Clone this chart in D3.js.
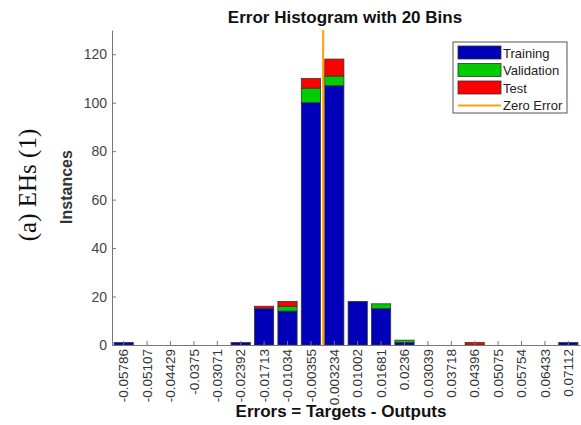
<!DOCTYPE html>
<html>
<head>
<meta charset="utf-8">
<script src="https://cdn.jsdelivr.net/npm/d3@7"></script>
<style>
  body { margin: 0; background: #fff; }
  svg { display: block; font-family: Arial, "Liberation Sans", sans-serif; }
</style>
</head>
<body>
<script>
// bin centres (tick labels) and counts per bin
let binLabels = ['-0.05786', '-0.05107', '-0.04429', '-0.0375', '-0.03071', '-0.02392',
  '-0.01713', '-0.01034', '-0.00355', '0.003234', '0.01002', '0.01681', '0.0236',
  '0.03039', '0.03718', '0.04396', '0.05075', '0.05754', '0.06433', '0.07112']
let training = [1, 0, 0, 0, 0, 1, 15, 14, 100, 107, 18, 15, 1, 0, 0, 0, 0, 0, 0, 1]
let validation = [0, 0, 0, 0, 0, 0, 0, 2, 6, 4, 0, 2, 1, 0, 0, 0, 0, 0, 0, 0]
let test = [0, 0, 0, 0, 0, 0, 1, 2, 4, 7, 0, 0, 0, 0, 0, 1, 0, 0, 0, 0]
let yTicks = [0, 20, 40, 60, 80, 100, 120]
let seriesNames = ['Training', 'Validation', 'Test']
let colors = { Training: '#0000b8', Validation: '#00cc00', Test: '#ff0000' }
let zeroColor = '#ffa200'

let width = 581
let height = 425
let margin = { left: 112, right: 1, top: 30, bottom: 80 }

let svg = d3.select('body').append('svg')
  .attr('width', width)
  .attr('height', height)

let rows = binLabels.map((b, i) => ({
  bin: b, Training: training[i], Validation: validation[i], Test: test[i]
}))

//scales
let xScale = d3.scaleBand()
  .domain(binLabels)
  .range([margin.left, width - margin.right])
  .paddingInner(0.18)
  .paddingOuter(0.09)
let yScale = d3.scaleLinear().domain([0, 130]).range([height - margin.bottom, margin.top])
// numeric scale for the zero error line, mapped through first/last bin centres
let first = +binLabels[0]
let last = +binLabels[binLabels.length - 1]
let xVal = d3.scaleLinear()
  .domain([first, last])
  .range([xScale(binLabels[0]) + xScale.bandwidth() / 2,
    xScale(binLabels[binLabels.length - 1]) + xScale.bandwidth() / 2])

let stacked = d3.stack().keys(seriesNames)(rows)

// bars
svg.append('g').selectAll('g')
  .data(stacked)
  .join('g')
  .attr('fill', d => colors[d.key])
  .selectAll('rect')
  .data(d => d.filter(p => p[1] > p[0]))
  .join('rect')
  .attr('x', d => xScale(d.data.bin))
  .attr('width', xScale.bandwidth())
  .attr('y', d => yScale(d[1]))
  .attr('height', d => yScale(d[0]) - yScale(d[1]))
  .attr('stroke', '#333')
  .attr('stroke-width', 0.8)

// axes
let xAxis = svg.append('g')
  .attr('transform', `translate(0,${height - margin.bottom})`)
  .call(d3.axisBottom(xScale).tickSize(-4).tickPadding(4).tickSizeOuter(0))
xAxis.selectAll('text')
  .attr('transform', 'rotate(-90)')
  .attr('text-anchor', 'end')
  .attr('x', -4)
  .attr('y', 0)
  .attr('dy', '0.35em')
  .style('font-size', '13.5px')
  .attr('fill', '#333')

let yAxis = svg.append('g')
  .attr('transform', `translate(${margin.left},0)`)
  .call(d3.axisLeft(yScale).tickValues(yTicks).tickSize(-4).tickPadding(5).tickSizeOuter(0))
yAxis.selectAll('text').style('font-size', '14px').attr('fill', '#444')

svg.selectAll('.domain').attr('stroke', '#777')
svg.selectAll('.tick line').attr('stroke', '#777')

// zero error line
svg.append('line')
  .attr('x1', xVal(0)).attr('x2', xVal(0))
  .attr('y1', margin.top).attr('y2', height - margin.bottom)
  .attr('stroke', zeroColor)
  .attr('stroke-width', 2)

// titles
svg.append('text')
  .attr('x', 345).attr('y', 23)
  .attr('text-anchor', 'middle')
  .style('font-size', '17px').style('font-weight', 'bold')
  .attr('fill', '#111')
  .text('Error Histogram with 20 Bins')

svg.append('text')
  .attr('x', 341).attr('y', 417)
  .attr('text-anchor', 'middle')
  .style('font-size', '17px').style('font-weight', 'bold')
  .attr('fill', '#111')
  .text('Errors = Targets - Outputs')

svg.append('text')
  .attr('transform', 'translate(72,187) rotate(-90)')
  .attr('text-anchor', 'middle')
  .style('font-size', '16px').style('font-weight', 'bold')
  .attr('fill', '#333')
  .text('Instances')

svg.append('text')
  .attr('transform', 'translate(36,185) rotate(-90)')
  .attr('text-anchor', 'middle')
  .style('font-family', '"Liberation Serif", "Times New Roman", serif')
  .style('font-size', '25px')
  .attr('fill', '#111')
  .text('(a) EHs (1)')

// legend
let legend = svg.append('g').attr('transform', 'translate(453,42)')
legend.append('rect')
  .attr('width', 114).attr('height', 71)
  .attr('fill', '#fff').attr('stroke', '#555')
let items = seriesNames.concat(['Zero Error'])
let item = legend.selectAll('g.item')
  .data(items)
  .join('g')
  .attr('class', 'item')
  .attr('transform', (d, i) => `translate(5,${4 + i * 17.5})`)
item.filter(d => d !== 'Zero Error')
  .append('rect')
  .attr('width', 43).attr('height', 13)
  .attr('fill', d => colors[d])
  .attr('stroke', '#333').attr('stroke-width', 0.8)
item.filter(d => d === 'Zero Error')
  .append('line')
  .attr('x1', 0).attr('x2', 43).attr('y1', 7).attr('y2', 7)
  .attr('stroke', zeroColor).attr('stroke-width', 2)
item.append('text')
  .attr('x', 45).attr('y', 7).attr('dy', '0.35em')
  .style('font-size', '13px')
  .attr('fill', '#222')
  .text(d => d)
</script>
</body>
</html>
